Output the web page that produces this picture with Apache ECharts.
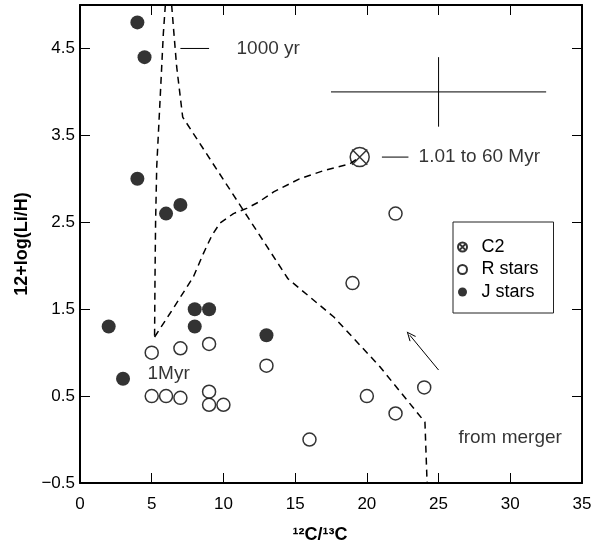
<!DOCTYPE html>
<html>
<head>
<meta charset="utf-8">
<script src="https://cdn.jsdelivr.net/npm/echarts@6/dist/echarts.min.js"></script>
<style>
html,body{margin:0;padding:0;background:#fff;}
#chart{width:605px;height:552px;}
</style>
</head>
<body>
<div id="chart"></div>
<script>
// ---- data ----
const xTicks = [0, 5, 10, 15, 20, 25, 30, 35];
const yTicks = [-0.5, 0.5, 1.5, 2.5, 3.5, 4.5];

const c2X = [19.5];
const c2Y = [3.25];

const rStarsX = [5, 7, 9, 13, 5, 6, 7, 9, 9, 10, 19, 20, 22, 24, 16, 22];
const rStarsY = [1.0, 1.05, 1.1, 0.85, 0.5, 0.5, 0.48, 0.55, 0.4, 0.4, 1.8, 0.5, 0.3, 0.6, 0.0, 2.6];

const jStarsX = [4, 4.5, 4, 6, 7, 2, 3, 8, 9, 8, 13];
const jStarsY = [4.8, 4.4, 3.0, 2.6, 2.7, 1.3, 0.7, 1.5, 1.5, 1.3, 1.2];

// dashed tracks
const leftBranchX = [5.95, 5.81, 5.58, 5.35, 5.27, 5.23, 5.2];
const leftBranchY = [5.0, 4.67, 3.9, 3.14, 2.5, 1.87, 1.18];
const rightBranchX = [6.39, 6.55, 6.74, 7.16, 14.5, 17.7, 20.9, 24.05, 24.2];
const rightBranchY = [5.0, 4.67, 4.29, 3.71, 1.85, 1.41, 0.84, 0.2, -0.5];
const mergerTrackX = [5.2, 6.27, 7.9, 8.6, 9.2, 9.76, 10.7, 11.62, 12.43, 13.5, 15.3, 17.1, 18.8, 19.5];
const mergerTrackY = [1.18, 1.45, 1.87, 2.14, 2.35, 2.49, 2.6, 2.66, 2.73, 2.85, 3.0, 3.1, 3.17, 3.25];

// error cross
const errCenter = [25, 4.0];
const errHalfX = 7.5;
const errHalfY = 0.4;

// arrow
const arrowFrom = [25, 0.8];
const arrowTo = [23, 1.2];

// leader lines
const leader1000X = [7, 9];
const leader1000Y = [4.5, 4.5];
const leaderC2X = [21.05, 22.9];
const leaderC2Y = [3.25, 3.25];

// annotation texts
const annotTexts = ['1000 yr', '1.01 to 60 Myr', '1Myr', 'from merger'];
const annotX = [10.88, 23.57, 4.67, 26.35];
const annotY = [4.5, 3.25, 0.76, 0.02];

// ---- helpers ----
const pairs = (xs, ys) => xs.map((x, i) => [x, ys[i]]);
const FONT = 'Liberation Sans';
const dashed = { color: '#000', width: 1.5, type: [7, 5] };

const c2Path = 'path://M20,10 A10,10 0 1,1 0,10 A10,10 0 1,1 20,10 Z M2,2 L18,18 M18,2 L2,18';
const chevron = 'path://M5,0 L10,9.2 L9,10 L5,2.4 L1,10 L0,9.2 Z';

const yFmt = v => (v < 0 ? '\u2212' + Math.abs(v).toFixed(1) : v.toFixed(1));

const chart = echarts.init(document.getElementById('chart'));
const option = {
  animation: false,
  textStyle: { fontFamily: FONT, color: '#000' },
  grid: { left: 80, right: 23, top: 5, bottom: 69 },
  legend: {
    data: ['C2', 'R stars', 'J stars'],
    orient: 'vertical',
    left: 453,
    top: 222,
    padding: [16, 15, 12, 4],
    itemWidth: 22,
    itemHeight: 9,
    itemGap: 4.5,
    borderColor: '#222',
    borderWidth: 1,
    textStyle: { fontSize: 18, color: '#000', fontFamily: FONT, lineHeight: 18, padding: [0, 0, 0, 3] },
    selectedMode: false
  },
  xAxis: [
    {
      type: 'value', min: 0, max: 35, interval: 5, position: 'bottom',
      name: '\u00b9\u00b2C/\u00b9\u00b3C',
      nameLocation: 'middle', nameGap: 43,
      nameTextStyle: { fontSize: 18, fontWeight: 'bold', color: '#000', fontFamily: FONT, padding: [0, 22, 0, 0] },
      axisLine: { onZero: false, lineStyle: { color: '#000', width: 2 } },
      axisTick: { inside: true, length: 10, lineStyle: { color: '#000', width: 1 } },
      axisLabel: { fontSize: 17, color: '#000', margin: 13, fontFamily: FONT, showMinLabel: true, showMaxLabel: true },
      splitLine: { show: false }
    },
    {
      type: 'value', min: 0, max: 35, interval: 5, position: 'top',
      axisLine: { onZero: false, lineStyle: { color: '#000', width: 2 } },
      axisTick: { inside: true, length: 10, lineStyle: { color: '#000', width: 1 } },
      axisLabel: { show: false },
      splitLine: { show: false }
    }
  ],
  yAxis: [
    {
      type: 'value', min: -0.5, max: 5, position: 'left',
      name: '12+log(Li/H)',
      nameLocation: 'middle', nameGap: 35,
      nameTextStyle: { fontSize: 18, fontWeight: 'bold', color: '#000', fontFamily: FONT },
      axisLine: { onZero: false, lineStyle: { color: '#000', width: 2 } },
      axisTick: { inside: true, length: 10, customValues: yTicks, lineStyle: { color: '#000', width: 1 } },
      axisLabel: { fontSize: 17, color: '#000', margin: 5, customValues: yTicks, formatter: yFmt, fontFamily: FONT },
      splitLine: { show: false }
    },
    {
      type: 'value', min: -0.5, max: 5, position: 'right',
      axisLine: { onZero: false, lineStyle: { color: '#000', width: 2 } },
      axisTick: { inside: true, length: 10, customValues: yTicks, lineStyle: { color: '#000', width: 1 } },
      axisLabel: { show: false },
      splitLine: { show: false }
    }
  ],
  series: [
    { name: 'leftBranch', type: 'line', data: pairs(leftBranchX, leftBranchY), showSymbol: false, symbol: 'none', lineStyle: dashed, silent: true, z: 1 },
    { name: 'rightBranch', type: 'line', data: pairs(rightBranchX, rightBranchY), showSymbol: false, symbol: 'none', lineStyle: dashed, silent: true, z: 1 },
    { name: 'mergerTrack', type: 'line', data: pairs(mergerTrackX, mergerTrackY), showSymbol: false, symbol: 'none', lineStyle: dashed, silent: true, z: 1 },
    { name: 'errX', type: 'line', data: [[errCenter[0] - errHalfX, errCenter[1]], [errCenter[0] + errHalfX, errCenter[1]]], symbol: 'none', lineStyle: { color: '#000', width: 1 }, silent: true },
    { name: 'errY', type: 'line', data: [[errCenter[0], errCenter[1] - errHalfY], [errCenter[0], errCenter[1] + errHalfY]], symbol: 'none', lineStyle: { color: '#000', width: 1 }, silent: true },
    { name: 'lead1', type: 'line', data: pairs(leader1000X, leader1000Y), symbol: 'none', lineStyle: { color: '#000', width: 1 }, silent: true },
    { name: 'lead2', type: 'line', data: pairs(leaderC2X, leaderC2Y), symbol: 'none', lineStyle: { color: '#000', width: 1 }, silent: true },
    {
      name: 'arrow', type: 'line', data: [], silent: true,
      markLine: {
        silent: true, animation: false,
        label: { show: false },
        lineStyle: { color: '#000', width: 1, type: 'solid' },
        data: [[
          { coord: arrowFrom, symbol: 'none' },
          { coord: arrowTo, symbol: chevron, symbolSize: [8, 10] }
        ]]
      }
    },
    {
      name: 'annotations', type: 'scatter', silent: true,
      data: annotTexts.map((t, i) => ({ name: t, value: [annotX[i], annotY[i]] })),
      symbolSize: 1,
      itemStyle: { color: 'transparent' },
      label: { show: true, position: 'right', distance: 0, formatter: p => p.name, fontSize: 19, color: '#000', fontFamily: FONT }
    },
    {
      name: 'R stars', type: 'scatter', data: pairs(rStarsX, rStarsY), symbol: 'circle', symbolSize: 13,
      itemStyle: { color: '#fff', borderColor: '#000', borderWidth: 1.5 }, z: 3
    },
    {
      name: 'J stars', type: 'scatter', data: pairs(jStarsX, jStarsY), symbol: 'circle', symbolSize: 14,
      itemStyle: { color: '#000', borderColor: '#000', borderWidth: 0 }, z: 3
    },
    {
      name: 'C2', type: 'scatter', data: pairs(c2X, c2Y), symbol: c2Path, symbolSize: 19,
      itemStyle: { color: 'transparent', borderColor: '#000', borderWidth: 1.5 }, z: 4
    }
  ]
};
chart.setOption(option);
</script>
</body>
</html>
